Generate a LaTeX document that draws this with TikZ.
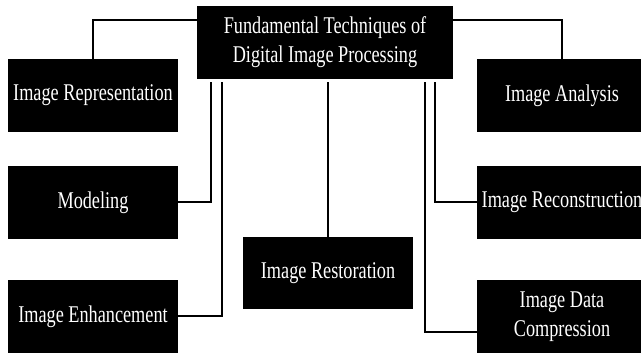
\documentclass[tikz,border=0pt]{standalone}
\usepackage{fontspec}
\setmainfont{Liberation Serif}[FakeStretch=0.76]
\tikzset{blk/.style={fill=black, text=white, minimum width=170pt, minimum height=73pt, inner sep=0pt, align=center, font=\fontsize{24}{29}\selectfont}, wire/.style={line width=2pt}}
\begin{document}
\begin{tikzpicture}[x = 1pt, y = 1pt]
		\clip (0,0) rectangle (641,354);
		\node[blk, minimum width=256pt] (top) at (325,311.5) {Fundamental Techniques of\\Digital Image Processing};
		\node[blk] (rep) at (93,258.5) {Image Representation};
		\node[blk] (model) at (93,151.5) {Modeling};
		\node[blk] (enh) at (93,37.5) {Image Enhancement};
		\node[blk, minimum height=72pt] (rest) at (328,81) {Image Restoration};
		\node[blk] (ana) at (562,258.5) {Image Analysis};
		\node[blk] (recon) at (562,151.5) {Image Reconstruction};
		\node[blk] (comp) at (562,37.5) {Image Data\\Compression};
		\draw[wire] ([yshift=-14pt]top.north west) -| (rep.north);
		\draw[wire] ([yshift=-14pt]top.north east) -| (ana.north);
		\draw[wire] ([xshift=14pt,yshift=-3pt]top.south west) |- (model.east);
		\draw[wire] ([xshift=25pt,yshift=-3pt]top.south west) |- (enh.east);
		\draw[wire, shorten >=3pt] (rest.north) -- (rest.north |- top.south);
		\draw[wire] ([xshift=-18pt,yshift=-3pt]top.south east) |- (recon.west);
		\draw[wire] ([xshift=-28pt,yshift=-3pt]top.south east) |- ([yshift=-16pt]comp.west);
	\end{tikzpicture}
\end{document}
